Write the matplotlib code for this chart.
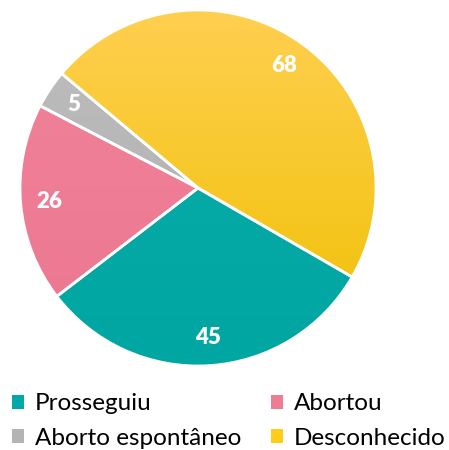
import matplotlib.pyplot as plt
import numpy as np
from matplotlib.patches import Patch

# Data
labels = ['Prosseguiu', 'Abortou', 'Aborto espontâneo', 'Desconhecido']
values = [45, 26, 5, 68]
colors = ['#00A9A6', '#EE7D94', '#B4B4B4', '#FFCC1A']
tops = ['#0AADA9', '#F0849A', '#BEBEBE', '#FFCF50']
bottoms = ['#00A6A2', '#EC7690', '#ADADAD', '#EFC000']

plt.rcParams['font.family'] = ['Lato', 'DejaVu Sans']

fig = plt.figure(figsize=(4.49, 4.5), dpi=100)
ax = fig.add_axes([20/449, 84/450, 356/449, 356/450])

wedges, texts = ax.pie(values, colors=colors, startangle=-30, counterclock=False,
                       radius=1, labels=[str(v) for v in values], labeldistance=0.84,
                       wedgeprops=dict(edgecolor='white', linewidth=2),
                       textprops=dict(color='white', fontsize=16, fontweight='heavy',
                                      ha='center', va='center'))

# vertical gradient fill for each slice
grad = np.linspace(0, 1, 256).reshape(-1, 1)
for w, t, b in zip(wedges, tops, bottoms):
    ct = np.array(plt.matplotlib.colors.to_rgb(t))
    cb = np.array(plt.matplotlib.colors.to_rgb(b))
    img = ct[None, None, :] * (1 - grad[:, :, None]) + cb[None, None, :] * grad[:, :, None]
    im = ax.imshow(img, extent=[-1, 1, -1, 1], origin='upper', zorder=w.get_zorder() + 0.1,
                   aspect='auto')
    im.set_clip_path(w)
    w.set_facecolor('none')
    w.set_zorder(w.get_zorder() + 0.2)

for t in texts:
    t.set_zorder(10)

ax.set_xlim(-1, 1)
ax.set_ylim(-1, 1)
ax.set_aspect('equal')
ax.axis('off')

# legend is filled row by row in the reference
order = [0, 2, 1, 3]
handles = [Patch(facecolor=colors[i], edgecolor='none') for i in order]
fig.legend(handles, [labels[i] for i in order], loc='lower left',
           bbox_to_anchor=(-0.022, -0.046), ncol=2, frameon=False, fontsize=17.5,
           handlelength=0.5, handleheight=0.5, handletextpad=0.45,
           columnspacing=1.2, labelspacing=0.55)

plt.savefig('out.png', dpi=100)
